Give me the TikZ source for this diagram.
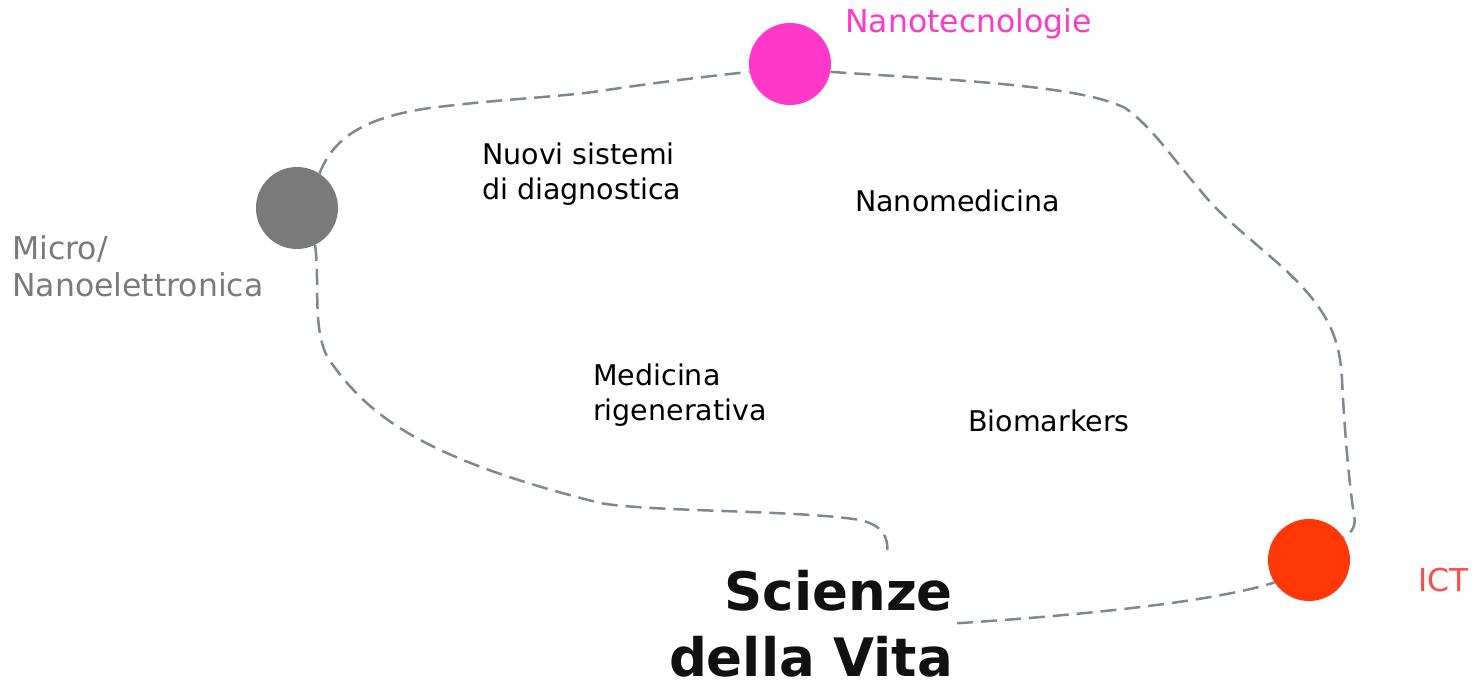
\documentclass[tikz,border=0pt]{standalone}
\usepackage{fontspec}
\setmainfont{DejaVu Sans}
\usepackage{xcolor}
\usetikzlibrary{positioning}
\definecolor{nanomag}{HTML}{FF38C8}
\definecolor{microgray}{HTML}{7A7A7A}
\definecolor{ictred}{HTML}{FF3805}
\definecolor{ictlabel}{HTML}{FF4A4A}
\definecolor{linkgray}{HTML}{7F878F}
\definecolor{titleblack}{HTML}{111111}

\tikzset{
  hub/.style={circle, minimum size=82pt, inner sep=0pt},
  link/.style={draw=linkgray, line width=2.5pt, dash pattern=on 16pt off 8pt},
  topic/.style={font=\fontsize{28.5}{35}\selectfont, align=left, inner sep=0pt, anchor=base west},
  field/.style={font=\fontsize{31.5}{37}\selectfont, align=left, inner sep=0pt, anchor=base west}
}

\begin{document}
\begin{tikzpicture}[x=1pt,y=-1pt]
  \useasboundingbox (0,0) rectangle (1480,684);
  % the three fields
  \node[hub,fill=microgray] (micro) at (297,208) {};
  \node[hub,fill=nanomag] (nano) at (790,64) {};
  \node[hub,fill=ictred] (ict) at (1309,560) {};
  \node[field,text=microgray] (microlbl) at (12,297) {Micro/\\Nanoelettronica};
  \node[field,text=nanomag] (nanolbl) at (845,33) {Nanotecnologie};
  \node[field,text=ictlabel] (ictlbl) at (1418,591) {ICT};
  % topics in between
  \node[topic] (diag) at (482,200) {Nuovi sistemi\\di diagnostica};
  \node[topic] (nmed) at (855,212) {Nanomedicina};
  \node[topic] (rigen) at (593,420) {Medicina\\rigenerativa};
  \node[topic] (biom) at (968,431) {Biomarkers};
  \node[font=\fontsize{53}{66}\selectfont\bfseries, text=titleblack, align=right,
        inner xsep=4pt, inner ysep=0pt, anchor=base east] (sv) at (957,676) {Scienze\\della Vita};
  \coordinate (svtop) at (887,558);
  % dashed links
  \draw[link] (micro.57) .. controls (333,140) and (360,118) .. (430,108)
    .. controls (500,99) and (560,97) .. (600,91)
    .. controls (660,82) and (710,76) .. (nano.191);
  \draw[link] (nano.-11) .. controls (950,80) and (1080,85) .. (1125,108)
    .. controls (1150,125) and (1170,155) .. (1200,190)
    .. controls (1220,215) and (1240,230) .. (1280,265)
    .. controls (1330,310) and (1340,340) .. (1342,380)
    .. controls (1345,440) and (1350,490) .. (1354,515)
    .. controls (1356,525) and (1353,532) .. (ict.33);
  \draw[link] (micro.-64) .. controls (320,280) and (312,330) .. (328,358)
    .. controls (370,420) and (430,460) .. (600,503)
    .. controls (650,512) and (800,510) .. (860,520)
    .. controls (890,527) and (888,545) .. (svtop);
  \draw[link] (sv.east) .. controls (1100,614) and (1220,600) .. (ict.213);
\end{tikzpicture}
\end{document}
